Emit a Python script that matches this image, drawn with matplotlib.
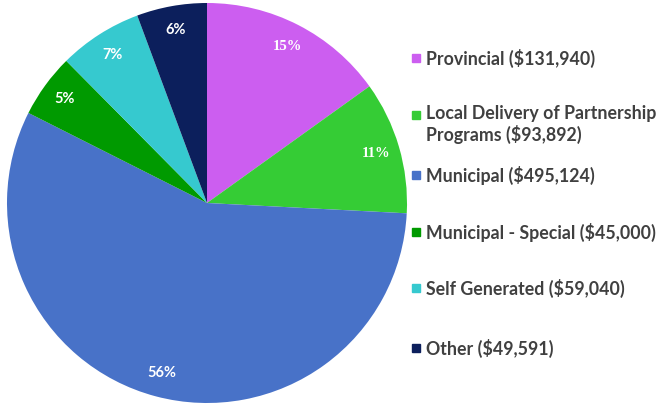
import matplotlib.pyplot as plt
from matplotlib.patches import Rectangle
import numpy as np

# funding sources, in dollars
sources = ['Provincial', 'Local Delivery of Partnership\nPrograms', 'Municipal',
           'Municipal - Special', 'Self Generated', 'Other']
amounts = [131940, 93892, 495124, 45000, 59040, 49591]
pct_labels = ['15%', '11%', '56%', '5%', '7%', '6%']
colors = ['#CC5EF0', '#35CC35', '#4872C8', '#009A00', '#36C9CF', '#0C1F5C']

W, H = 663, 408
fig = plt.figure(figsize=(W / 100, H / 100), dpi=100)
fig.patch.set_facecolor('white')

# pie axes, centre at (207, 205) px, radius ~198 px
ax = fig.add_axes([7 / W, 5 / H, 400 / W, 400 / H])
wedges, texts = ax.pie(amounts, colors=colors, startangle=90, counterclock=False,
                       radius=1.0, wedgeprops=dict(linewidth=0))
ax.set_xlim(-1.0, 1.0)
ax.set_ylim(-1.0, 1.0)
ax.set_aspect('equal')
ax.axis('off')

total = sum(amounts)
start = 90.0
for i, (amt, lab) in enumerate(zip(amounts, pct_labels)):
    span = 360.0 * amt / total
    mid = np.deg2rad(start - span / 2)
    start -= span
    r = 0.88
    fam = 'Liberation Serif' if i in (0, 1) else 'Lato'
    ax.text(r * np.cos(mid), r * np.sin(mid), lab, color='white', ha='center',
            va='center', fontsize=10.5, fontweight='bold', family=fam)

# legend drawn by hand
legend_y = [58, 115, 175, 232, 288, 348]
for src, amt, col, y in zip(sources, amounts, colors, legend_y):
    fig.patches.append(Rectangle((412 / W, 1 - (y + 4) / H), 8 / W, 8 / H,
                                 transform=fig.transFigure, color=col))
    two_lines = '\n' in src
    fig.text(426 / W, 1 - (y - 10 if two_lines else y) / H, f'{src} (${amt:,})',
             color='#404040', fontsize=12.8, fontweight='bold', family='Lato',
             va='top' if two_lines else 'center', linespacing=1.2)

fig.savefig('out.png', dpi=100)
